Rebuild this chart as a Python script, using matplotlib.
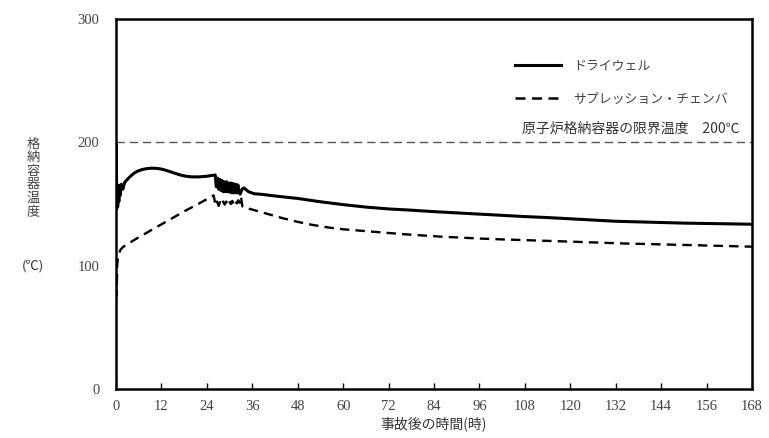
import matplotlib
matplotlib.use("Agg")
import matplotlib.pyplot as plt
from matplotlib.lines import Line2D

plt.rcParams['font.family'] = ['Liberation Serif', 'Noto Sans CJK JP', 'DejaVu Sans']

# Drywell temperature (hours, degC)
dw_t = [0, 0.08, 0.18, 0.3, 0.45, 0.6, 0.75, 0.9, 1.1, 1.4, 1.8, 2.3, 3, 4, 5, 6, 7, 8, 9, 10,
        11, 12, 13, 14, 15, 16, 17, 18, 19, 20, 22, 24, 25, 26.2,
        26.5, 26.8, 27.1, 27.4, 27.7, 28.0, 28.3, 28.6, 28.9, 29.2, 29.5, 29.8, 30.1, 30.4,
        30.7, 31.0, 31.3, 31.6, 31.9, 32.2, 32.5, 32.8, 33.3, 33.8, 35, 36.5, 38.6, 42, 48,
        54, 60, 66, 72, 78, 84, 90, 96, 102, 108, 114, 120, 126, 132, 138, 144, 150, 156,
        162, 168]
dw_v = [150, 198, 146, 166, 148, 164, 152, 165, 157, 166, 162, 167.5, 170, 173, 175.5, 177, 178, 178.6, 179, 179,
        178.8, 178.3, 177.5, 176.5, 175.5, 174.5, 173.5, 172.8, 172.3, 172, 172, 172.5, 173, 173.5,
        164, 171, 162, 170, 161, 169, 160, 168, 160, 168, 160, 167, 159.5, 167,
        159, 166.5, 159, 166, 159, 165.5, 159, 158, 162, 163, 160, 158.3, 157.8, 156.5, 154.5,
        151.8, 149.5, 147.5, 146, 145, 143.8, 142.8, 141.8, 140.8, 139.8, 139, 138, 137, 136, 135.5, 135, 134.5, 134.2,
        133.9, 133.6]

# Suppression chamber temperature (hours, degC)
sc_t = [0, 0.1, 0.2, 0.3, 0.5, 0.8, 1.2, 1.8, 3, 6, 10, 14, 18, 22, 25.8,
        26.3, 26.7, 27.1, 27.5, 27.9, 28.3, 28.7, 29.1, 29.5, 29.9, 30.3, 30.7, 31.1, 31.5,
        31.9, 32.3, 32.7, 33.0, 33.4, 34, 36, 40, 44, 48, 52, 56, 60, 68, 76, 86, 96, 101,
        110, 120, 134, 150, 168]
sc_v = [73, 95, 76, 100, 106, 110, 113, 115, 117.5, 123, 130, 137, 144, 150.5, 157,
        149, 152, 148.5, 151.5, 149, 152, 149.5, 152, 149.5, 152.5, 150, 152.5, 150, 153,
        150.5, 153, 151, 156, 148, 147, 145.5, 142, 138.5, 135.5, 133, 131, 129.5, 127.5, 125.5, 123.5, 122, 121.4,
        120.5, 119.5, 118, 116.8, 115.4]

limit_temp = 200
xticks = list(range(0, 169, 12))
yticks = [0, 100, 200, 300]

fig = plt.figure(figsize=(7.69, 4.38), dpi=100)
ax = fig.add_axes([116/769, 1-389/438, (752-116)/769, (389-19)/438])

ax.axhline(limit_temp, color='#555555', lw=1.0, dashes=(6, 3.5))
ax.plot(dw_t, dw_v, color='black', lw=2.2, solid_joinstyle='round')
ax.plot(sc_t, sc_v, color='black', lw=1.7, dashes=(4, 2.6))

ax.set_xlim(0, 168)
ax.set_ylim(0, 300)
ax.set_xticks(xticks)
ax.set_yticks(yticks)
ax.tick_params(axis='x', direction='in', length=4, width=1, labelsize=10.5,
               color='black', labelcolor='#444444', pad=8)
ax.tick_params(axis='y', direction='in', length=0, labelsize=10.5,
               labelcolor='#444444', pad=12)
for s in ax.spines.values():
    s.set_linewidth(1.8)

ax.set_xlabel('事故後の時間(時)', fontsize=10, family=['Noto Sans CJK JP'], color='#333333', labelpad=2)

fig.text(33/769, 1-178/438, '格\n納\n容\n器\n温\n度', fontsize=9.5, family=['Noto Sans CJK JP'],
         color='#444444', ha='center', va='center', linespacing=1.05)
fig.text(33/769, 1-266/438, '(℃)', fontsize=9.5, family=['Noto Sans CJK JP'],
         color='#333333', ha='center', va='center')

handles = [Line2D([], [], color='black', lw=2.2),
           Line2D([], [], color='black', lw=1.8, dashes=(4, 2.6))]
leg = ax.legend(handles, ['ドライウェル', 'サプレッション・チェンバ'], loc='upper left',
                bbox_to_anchor=(503/769, 1-48/438), bbox_transform=fig.transFigure,
                frameon=False, handlelength=3.6, handletextpad=0.9, labelspacing=1.55,
                prop={'family': ['Noto Sans CJK JP'], 'size': 9.3})
for t in leg.get_texts():
    t.set_color('#444444')

fig.text(739/769, 1-128/438, '原子炉格納容器の限界温度　200℃', fontsize=10,
         family=['Noto Sans CJK JP', 'DejaVu Sans'], color='#333333', ha='right', va='center')

fig.savefig('out.png', dpi=100)
